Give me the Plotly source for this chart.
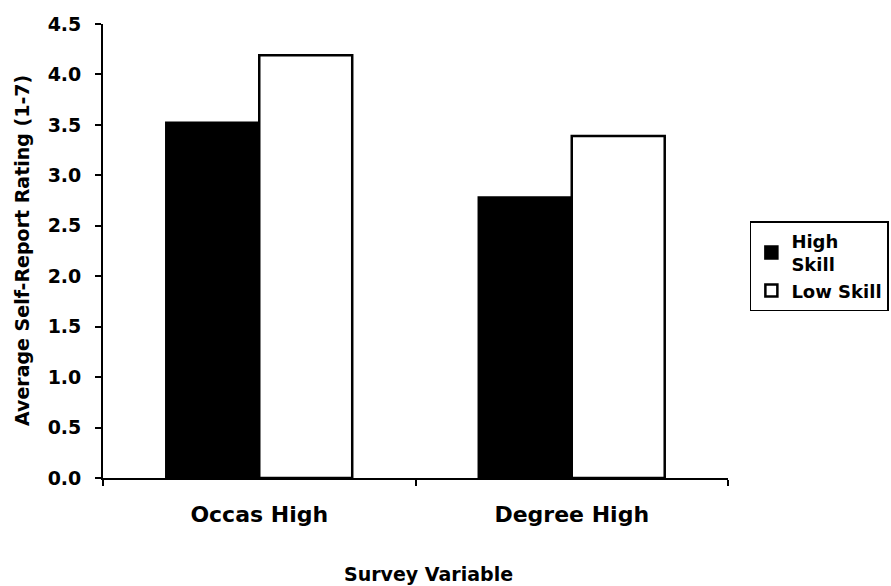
import plotly.graph_objects as go

# Survey variables on the x axis and mean ratings per skill group
categories = ["Occas High", "Degree High"]
high_skill = [3.52, 2.78]
low_skill = [4.19, 3.39]
series_names = ["High<br>Skill", "Low Skill"]
y_ticks = [0.0, 0.5, 1.0, 1.5, 2.0, 2.5, 3.0, 3.5, 4.0, 4.5]

FONT = "DejaVu Sans, Liberation Sans, Arial, sans-serif"

fig = go.Figure()
fig.add_trace(go.Bar(
    x=categories, y=high_skill, name=series_names[0],
    marker=dict(color="#000000", line=dict(color="#000000", width=2.5)),
))
fig.add_trace(go.Bar(
    x=categories, y=low_skill, name=series_names[1],
    marker=dict(color="#ffffff", line=dict(color="#000000", width=2.5)),
))

fig.update_layout(
    width=891, height=586,
    margin=dict(l=103, r=163, t=24, b=108, autoexpand=False),
    paper_bgcolor="white", plot_bgcolor="white",
    barmode="group", bargap=0.405, bargroupgap=0.0,
    font=dict(family=FONT, size=19, color="#000000", weight="bold"),
    showlegend=True,
    legend=dict(
        x=1.035, y=0.566, xanchor="left", yanchor="top",
        bordercolor="#000000", borderwidth=1.5, bgcolor="white",
        font=dict(family=FONT, size=18, color="#000000", weight="bold"),
        tracegroupgap=0, itemwidth=30,
    ),
    xaxis=dict(
        showline=True, linecolor="#000000", linewidth=1.8,
        ticks="outside", tickson="boundaries", ticklen=6, tickcolor="#000000",
        tickwidth=1.5, showgrid=False, ticklabelstandoff=16,
        tickfont=dict(family=FONT, size=22, color="#000000", weight="bold"),
    ),
    yaxis=dict(
        range=[0, 4.5], tickvals=y_ticks, tickformat=".1f",
        showline=True, linecolor="#000000", linewidth=1.8,
        ticks="outside", ticklen=6, tickcolor="#000000", tickwidth=1.5,
        showgrid=False, zeroline=False, ticklabelstandoff=10,
        tickfont=dict(family=FONT, size=19, color="#000000", weight="bold"),
    ),
    annotations=[
        dict(text="Average Self-Report Rating (1-7)", textangle=-90,
             xref="paper", yref="paper", x=-0.1296, y=0.5,
             xanchor="center", yanchor="middle", showarrow=False,
             font=dict(family=FONT, size=19, color="#000000", weight="bold")),
        dict(text="Survey Variable",
             xref="paper", yref="paper", x=0.52, y=-0.211,
             xanchor="center", yanchor="middle", showarrow=False,
             font=dict(family=FONT, size=19, color="#000000", weight="bold")),
    ],
)

fig.write_html("out.html")
